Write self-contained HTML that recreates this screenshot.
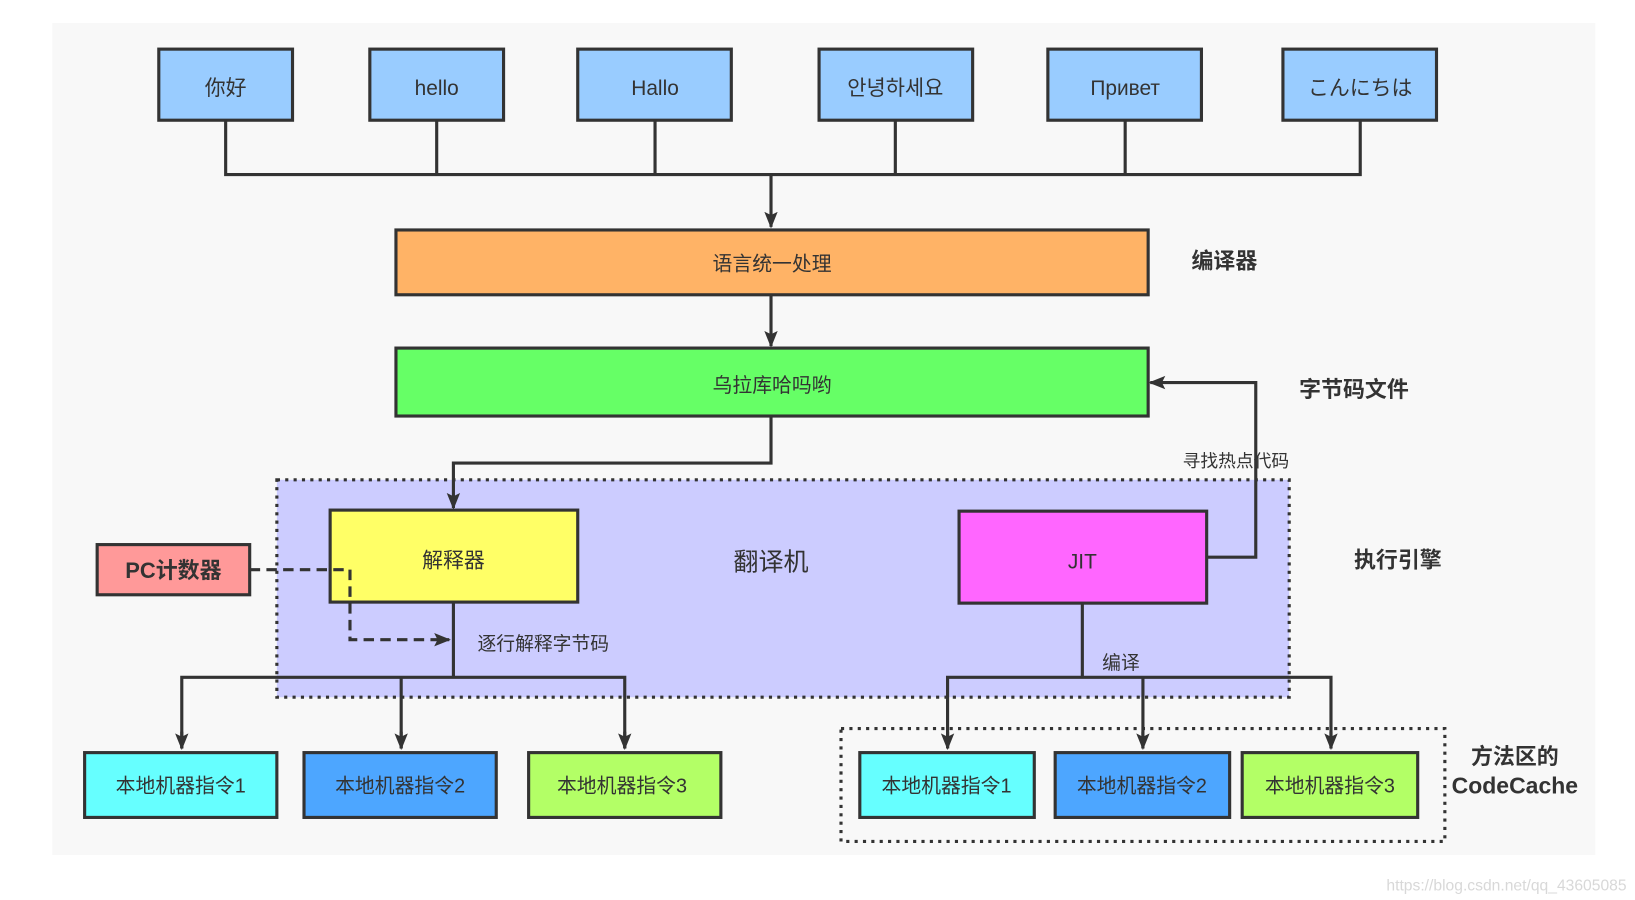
<!DOCTYPE html>
<html><head><meta charset="utf-8"><style>
html,body{margin:0;padding:0;background:#fff;width:1635px;height:900px;overflow:hidden}
svg{display:block}
text{font-family:"Liberation Sans","Noto Sans CJK SC",sans-serif;fill:#333}
</style></head><body>
<svg width="1635" height="900" viewBox="0 0 1565 861" preserveAspectRatio="none" xmlns="http://www.w3.org/2000/svg">
<defs>
<marker id="a" viewBox="0 0 10 10" refX="9" refY="5" markerWidth="5" markerHeight="5" orient="auto" markerUnits="userSpaceOnUse"><path d="M0,0 L10,5 L0,10 Z" fill="#333"/></marker>
<marker id="ar" viewBox="0 0 10 10" refX="9" refY="5" markerWidth="16" markerHeight="16" orient="auto" markerUnits="userSpaceOnUse"><path d="M0,1 L10,5 L0,9 L2,5 Z" fill="#333"/></marker>
</defs>
<rect x="0" y="0" width="1565" height="861" fill="#fff"/>
<rect x="50" y="22" width="1477" height="796" fill="#f8f8f8"/>
<g stroke="#333" stroke-width="3">
<rect x="152" y="47" width="128" height="68" fill="#99ccff"/>
<rect x="354" y="47" width="128" height="68" fill="#99ccff"/>
<rect x="553" y="47" width="147" height="68" fill="#99ccff"/>
<rect x="784" y="47" width="147" height="68" fill="#99ccff"/>
<rect x="1003" y="47" width="147" height="68" fill="#99ccff"/>
<rect x="1228" y="47" width="147" height="68" fill="#99ccff"/>
</g>
<g stroke="#333" stroke-width="3" fill="none">
<path d="M216,115V167H1302V115M418,115V167M627,115V167M857,115V167M1077,115V167"/>
<path d="M738,167V217" marker-end="url(#ar)"/>
<path d="M738,282V331" marker-end="url(#ar)"/>
</g>
<text font-size="20" text-anchor="middle">
<tspan x="216" y="91">你好</tspan><tspan x="418" y="91">hello</tspan><tspan x="627" y="91">Hallo</tspan><tspan x="857" y="91">안녕하세요</tspan><tspan x="1077" y="91">Привет</tspan><tspan x="1302" y="91">こんにちは</tspan>
</text>
<rect x="379" y="220" width="720" height="62" fill="#ffb366" stroke="#333" stroke-width="3"/>
<text x="739" y="259" font-size="19" text-anchor="middle">语言统一处理</text>
<text x="1172" y="257" font-size="21" font-weight="bold" text-anchor="middle">编译器</text>
<rect x="379" y="333" width="720" height="65" fill="#66ff66" stroke="#333" stroke-width="3"/>
<text x="739" y="375" font-size="19" text-anchor="middle">乌拉库哈吗哟</text>
<text x="1296" y="380" font-size="21" font-weight="bold" text-anchor="middle">字节码文件</text>
<rect x="265" y="459" width="969" height="208" fill="#ccccff" stroke="#333" stroke-width="3" stroke-dasharray="3,5"/>
<g stroke="#333" stroke-width="3" fill="none">
<path d="M738,398V443H434V486" marker-end="url(#ar)"/>
<path d="M1155,533H1202V366H1101" marker-end="url(#ar)"/>
<path d="M434,576V648M174,716V648H598V716M384,648V716" />
<path d="M174,700V716" marker-end="url(#ar)"/><path d="M384,700V716" marker-end="url(#ar)"/><path d="M598,700V716" marker-end="url(#ar)"/>
<path d="M1036,577V648M907,716V648H1274V716M1094,648V716"/>
<path d="M907,700V716" marker-end="url(#ar)"/><path d="M1094,700V716" marker-end="url(#ar)"/><path d="M1274,700V716" marker-end="url(#ar)"/>
</g>
<rect x="316" y="488" width="237" height="88" fill="#ffff66" stroke="#333" stroke-width="3"/>
<text x="434" y="543" font-size="20" text-anchor="middle">解释器</text>
<text x="738" y="546" font-size="24" text-anchor="middle">翻译机</text>
<rect x="918" y="489" width="237" height="88" fill="#ff66ff" stroke="#333" stroke-width="3"/>
<text x="1036" y="544" font-size="20" text-anchor="middle">JIT</text>
<text x="1183" y="447" font-size="17" text-anchor="middle">寻找热点代码</text>
<text x="1338" y="543" font-size="21" font-weight="bold" text-anchor="middle">执行引擎</text>
<rect x="93" y="521" width="146" height="48" fill="#ff9999" stroke="#333" stroke-width="3"/>
<text x="166" y="553" font-size="21" font-weight="bold" text-anchor="middle">PC计数器</text>
<path d="M239,545H335V612H430" stroke="#333" stroke-width="3" fill="none" stroke-dasharray="10,6" marker-end="url(#ar)"/>
<text x="520" y="622" font-size="18" text-anchor="middle">逐行解释字节码</text>
<text x="1073" y="640" font-size="18" text-anchor="middle">编译</text>
<rect x="805" y="697" width="578" height="108" fill="none" stroke="#333" stroke-width="3" stroke-dasharray="3,5"/>
<g stroke="#333" stroke-width="3">
<rect x="81" y="720" width="184" height="62" fill="#66ffff"/>
<rect x="291" y="720" width="184" height="62" fill="#4da6ff"/>
<rect x="506" y="720" width="184" height="62" fill="#b3ff66"/>
<rect x="823" y="720" width="167" height="62" fill="#66ffff"/>
<rect x="1010" y="720" width="167" height="62" fill="#4da6ff"/>
<rect x="1189" y="720" width="168" height="62" fill="#b3ff66"/>
</g>
<text font-size="19" text-anchor="middle">
<tspan x="173" y="758">本地机器指令1</tspan><tspan x="383" y="758">本地机器指令2</tspan><tspan x="598" y="758">本地机器指令3</tspan>
<tspan x="906" y="758">本地机器指令1</tspan><tspan x="1093" y="758">本地机器指令2</tspan><tspan x="1273" y="758">本地机器指令3</tspan>
</text>
<text x="1450" y="731" font-size="21" font-weight="bold" text-anchor="middle">方法区的</text>
<text x="1450" y="759" font-size="22" font-weight="bold" text-anchor="middle">CodeCache</text>
<text x="1442" y="852" font-size="15" text-anchor="middle" style="fill:#d8d8d8">https://blog.csdn.net/qq_43605085</text>
</svg>
</body></html>
